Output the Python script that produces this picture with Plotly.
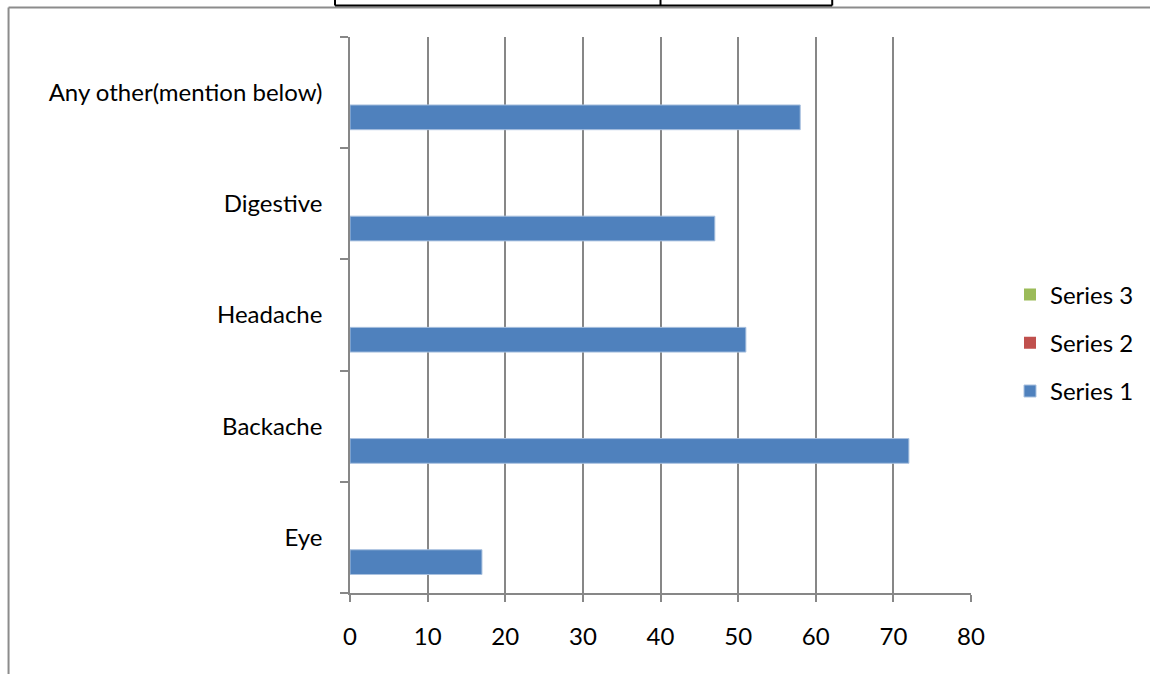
import plotly.graph_objects as go

# Complaint categories (bottom to top) and series values
categories = ["Eye", "Backache", "Headache", "Digestive", "Any other(mention below)"]
series_1 = [17, 72, 51, 47, 58]
series_2 = [None, None, None, None, None]
series_3 = [None, None, None, None, None]
x_ticks = [0, 10, 20, 30, 40, 50, 60, 70, 80]

W, H = 1150, 674
L, R, T, B = 350, 972, 37, 593  # plot area in pixels

FONT = "Lato, Carlito, Calibri, sans-serif"
FS = 24
GRID = "#878787"


def px_x(p):
    return (p - L) / (R - L)


def px_y(p):
    return (B - p) / (B - T)


fig = go.Figure()
fig.add_trace(go.Bar(
    y=categories, x=series_1, orientation="h", name="Series 1",
    marker=dict(color="#4F81BD", line=dict(color="#a9c1df", width=1)),
    legendgroup="s1", legendrank=3,
))
fig.add_trace(go.Bar(
    y=categories, x=series_2, orientation="h", name="Series 2",
    marker=dict(color="#C0504D", line=dict(width=0)),
    legendgroup="s2", legendrank=2,
))
fig.add_trace(go.Bar(
    y=categories, x=series_3, orientation="h", name="Series 3",
    marker=dict(color="#9BBB59", line=dict(width=0)),
    legendgroup="s3", legendrank=1,
))

# chart frame (top and left edges) and the table rule above it
shapes = [
    dict(type="line", xref="paper", yref="paper",
         x0=px_x(8), x1=px_x(W + 5), y0=px_y(7.5), y1=px_y(7.5),
         line=dict(color="#8c8c8c", width=2)),
    dict(type="line", xref="paper", yref="paper",
         x0=px_x(8), x1=px_x(8), y0=px_y(7.5), y1=px_y(H + 5),
         line=dict(color="#8c8c8c", width=2)),
    dict(type="line", xref="paper", yref="paper",
         x0=px_x(335), x1=px_x(833), y0=px_y(5.5), y1=px_y(5.5),
         line=dict(color="black", width=2)),
]
for xv in (335, 661, 833):
    shapes.append(dict(type="line", xref="paper", yref="paper",
                       x0=px_x(xv), x1=px_x(xv), y0=px_y(-2), y1=px_y(5.5),
                       line=dict(color="black", width=2)))

fig.update_layout(
    width=W, height=H,
    margin=dict(l=L, r=W - R, t=T, b=H - B, pad=0),
    paper_bgcolor="white", plot_bgcolor="white",
    barmode="group", bargap=0.333, bargroupgap=0,
    font=dict(family=FONT, size=FS, color="black"),
    showlegend=True,
    legend=dict(
        x=px_x(1010), xanchor="left",
        y=px_y(343), yanchor="middle",
        traceorder="grouped", tracegroupgap=14,
        font=dict(family=FONT, size=FS, color="black"),
        bgcolor="rgba(0,0,0,0)",
    ),
    shapes=shapes,
)

fig.update_xaxes(
    range=[0, 80], tickvals=x_ticks, ticktext=[str(v) for v in x_ticks],
    showgrid=True, gridcolor=GRID, gridwidth=1.5,
    zeroline=False, showline=True, linecolor=GRID, linewidth=1.5,
    ticks="outside", ticklen=7, tickcolor=GRID, tickwidth=1.5,
    ticklabelstandoff=14,
    tickfont=dict(family=FONT, size=FS, color="black"),
)
fig.update_yaxes(
    type="category", categoryorder="array", categoryarray=categories,
    showgrid=False, zeroline=False,
    showline=True, linecolor=GRID, linewidth=1.5,
    ticks="outside", ticklen=8, tickcolor=GRID, tickwidth=1.5,
    tickson="boundaries", ticklabelstandoff=21,
    tickfont=dict(family=FONT, size=FS, color="black"),
)

fig.write_html("out.html")
